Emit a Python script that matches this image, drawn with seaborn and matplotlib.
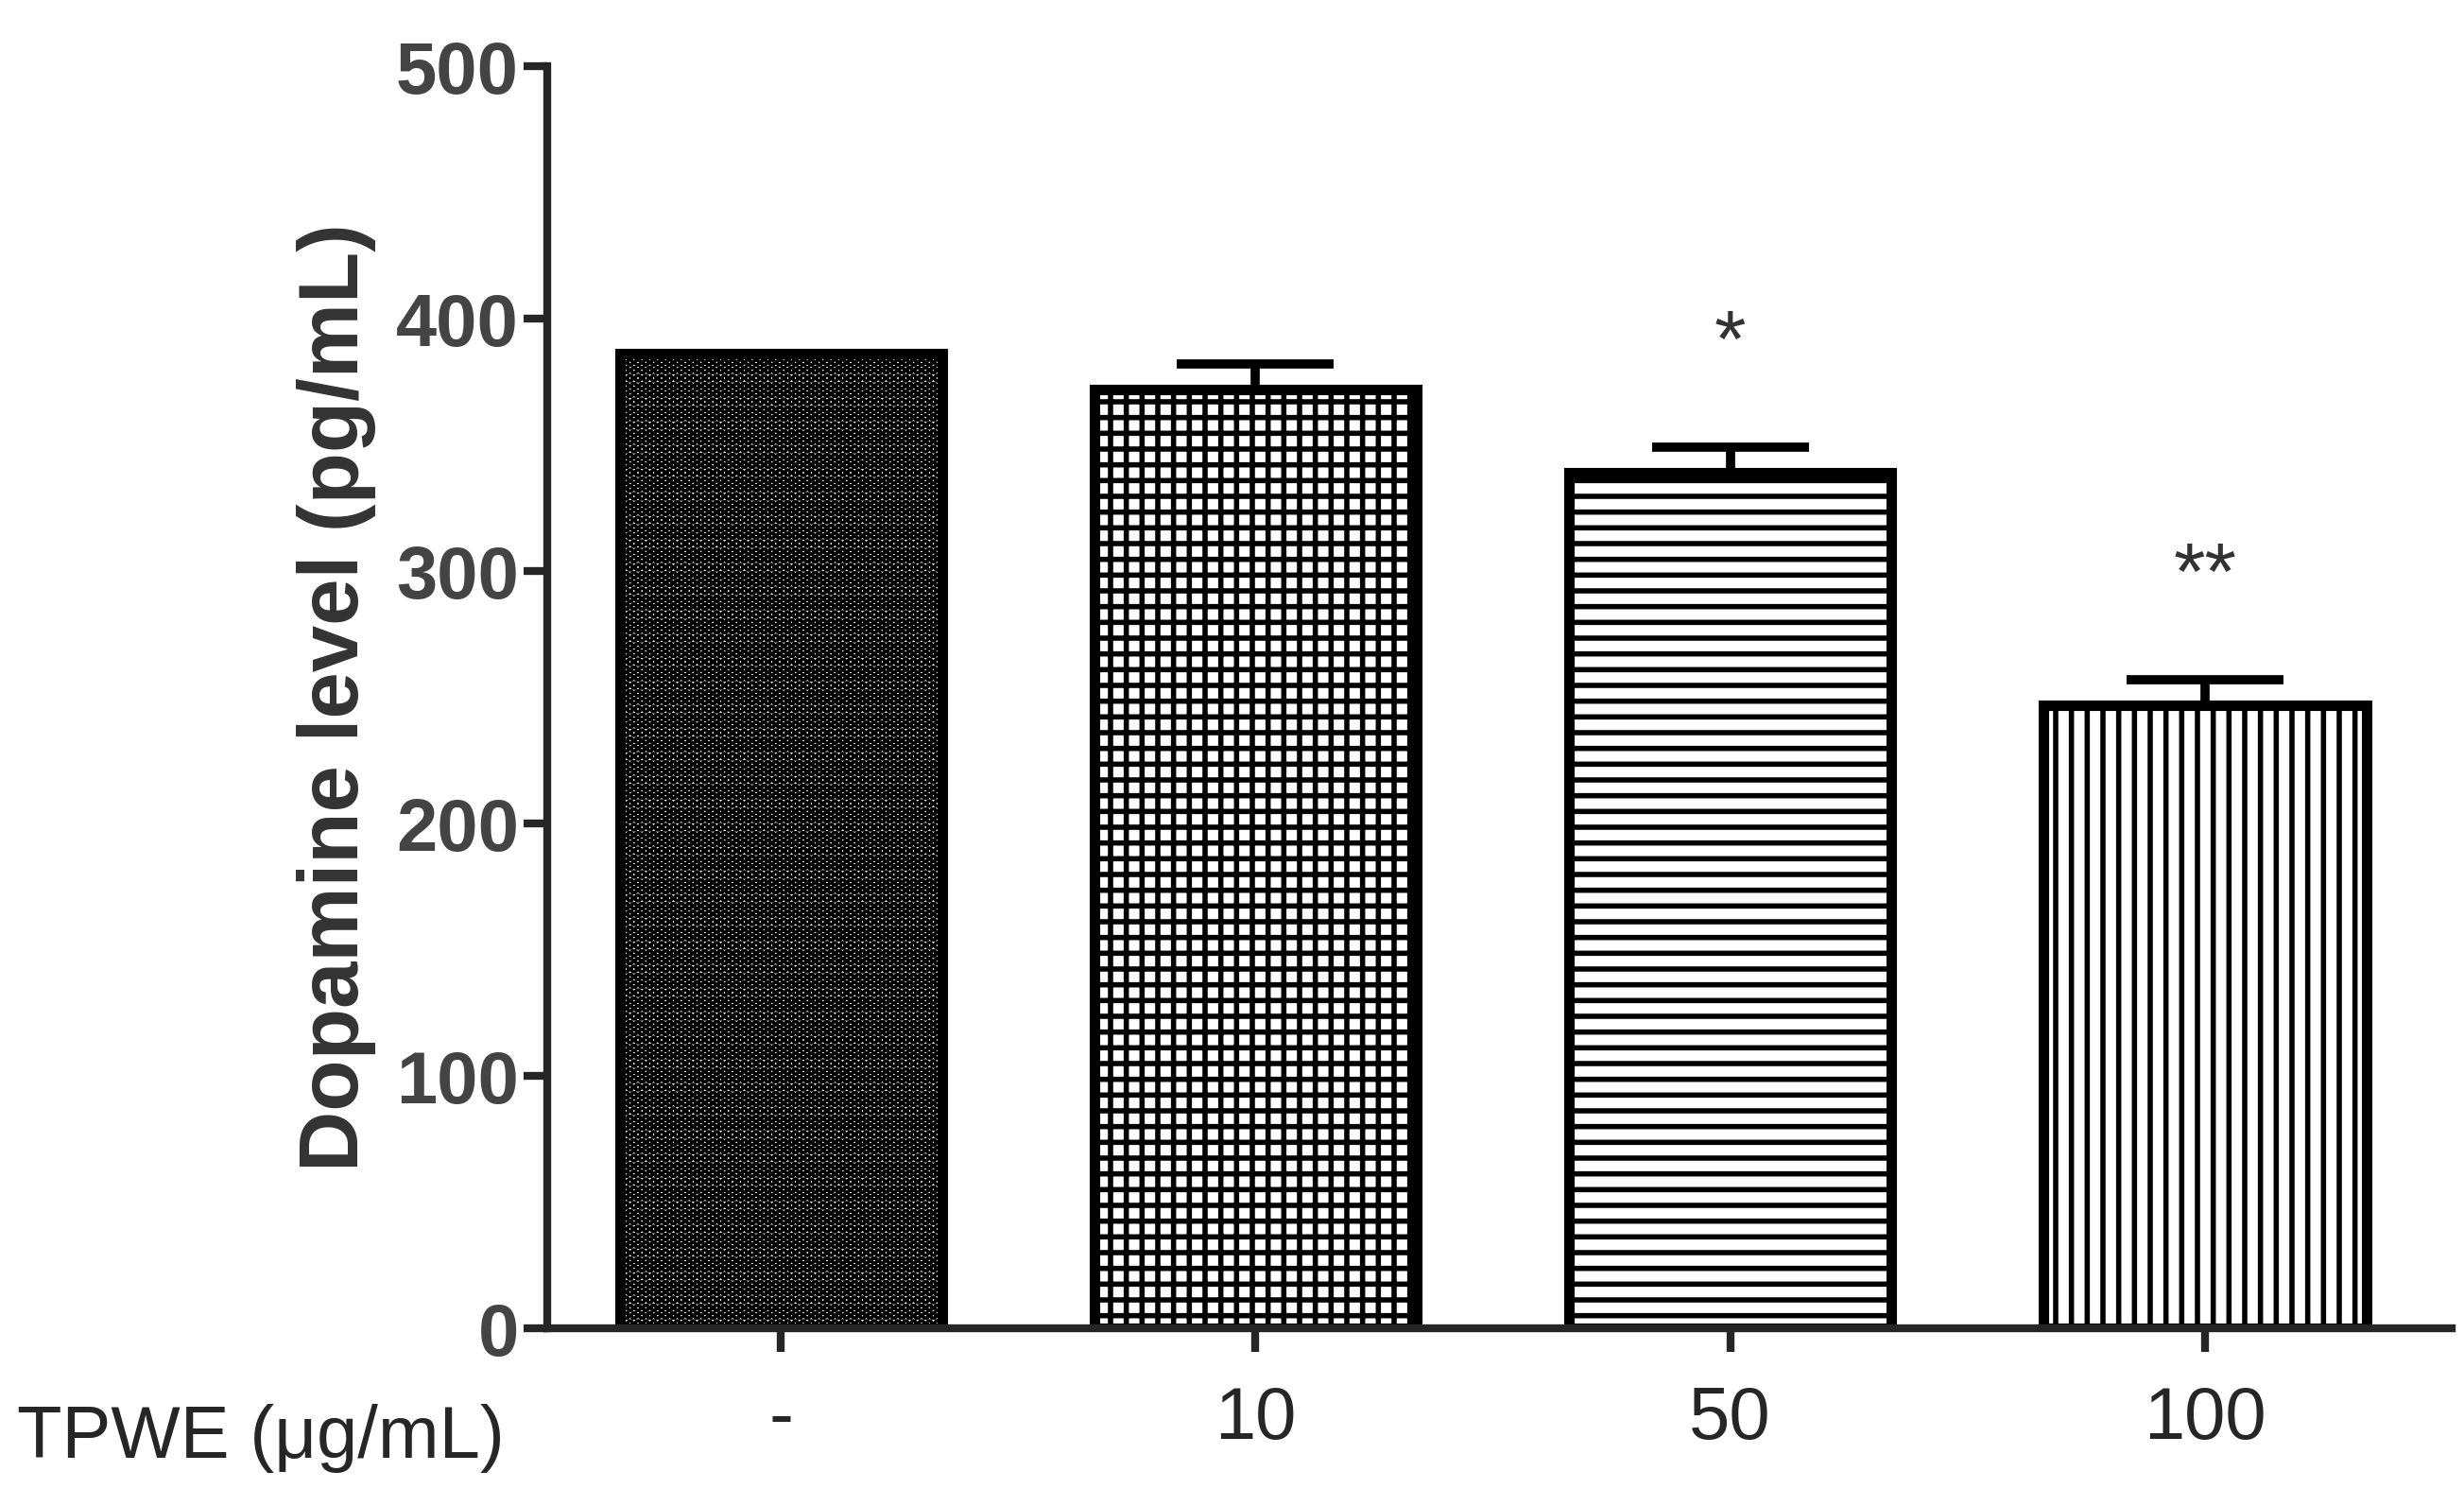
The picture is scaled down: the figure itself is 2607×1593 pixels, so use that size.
import matplotlib
matplotlib.use("Agg")
import matplotlib.pyplot as plt
import seaborn as sns
import pandas as pd

groups = ["-", "10", "50", "100"]
dopamine = [386, 372, 339, 247]
sem = [0, 10, 10, 10]
stars = ["", "", "*", "**"]
hatches = ["oo", "+", "-", "|"]

sns.set_style("ticks")
plt.rcParams["font.family"] = ["Liberation Sans", "DejaVu Sans"]
plt.rcParams["hatch.linewidth"] = 4.0

df = pd.DataFrame({"group": groups, "value": dopamine})

fig = plt.figure(figsize=(26.07, 15.93), dpi=100)
ax = fig.add_axes([0.222, 0.118, 0.773, 0.838])

sns.barplot(data=df, x="group", y="value", color="white", width=0.68,
            edgecolor="black", linewidth=8, ax=ax)
for bar, h in zip(ax.patches, hatches):
    bar.set_hatch(h)

ax.errorbar(range(len(groups)), dopamine, yerr=[[0] * 4, sem], fmt="none",
            ecolor="black", elinewidth=7, capsize=60, capthick=7)
for i, s in enumerate(stars):
    if s:
        ax.text(i, dopamine[i] + sem[i] + 40, s, ha="center", va="center",
                fontsize=62, color="#333333")

ax.set_xlim(-0.493, 3.52)
ax.set_ylim(0, 500)
ax.set_yticks([0, 100, 200, 300, 400, 500])
ax.set_xlabel("")
ax.set_ylabel("Dopamine level (pg/mL)", fontsize=64, fontweight="bold", labelpad=15,
              color="#333333")
ax.tick_params(axis="y", labelsize=56, width=6, length=18)
ax.tick_params(axis="x", labelsize=56, width=6, length=18, pad=25)
for t in ax.get_yticklabels():
    t.set_fontweight("bold")
    t.set_color("#444444")
sns.despine(ax=ax)
for sp in ["left", "bottom"]:
    ax.spines[sp].set_linewidth(6)

fig.text(0.007, 0.045, "TPWE (\u03bcg/mL)", fontsize=56, ha="left", va="center")

fig.savefig("out.png", dpi=100)
